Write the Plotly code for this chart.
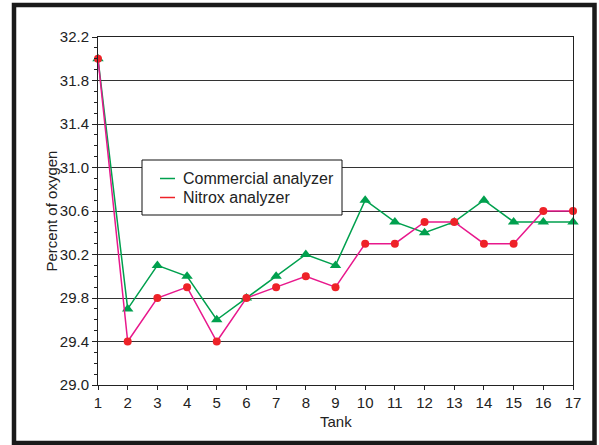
import plotly.graph_objects as go

tanks = list(range(1, 18))
commercial = [32.0, 29.7, 30.1, 30.0, 29.6, 29.8, 30.0, 30.2, 30.1, 30.7, 30.5, 30.4, 30.5, 30.7, 30.5, 30.5, 30.5]
nitrox = [32.0, 29.4, 29.8, 29.9, 29.4, 29.8, 29.9, 30.0, 29.9, 30.3, 30.3, 30.5, 30.5, 30.3, 30.3, 30.6, 30.6]
series_names = ["Commercial analyzer", "Nitrox analyzer"]
y_ticks = [29.0, 29.4, 29.8, 30.2, 30.6, 31.0, 31.4, 31.8, 32.2]

GREEN = "#00A04E"
MAGENTA = "#E8188C"
RED = "#EE2228"
FONT = "Liberation Sans, Arial, sans-serif"
TXT = "#222222"

W, H = 599, 445
L, R, T, B = 98, 573, 37, 385

def px(xp):
    return (xp - L) / (R - L)

def py(yp):
    return (B - yp) / (B - T)

fig = go.Figure()
fig.add_trace(go.Scatter(
    x=tanks, y=commercial, mode="lines+markers", name=series_names[0],
    line=dict(color=GREEN, width=1.5),
    marker=dict(symbol="triangle-up", size=10, color=GREEN),
    cliponaxis=False, showlegend=False))
fig.add_trace(go.Scatter(
    x=tanks, y=nitrox, mode="lines+markers", name=series_names[1],
    line=dict(color=MAGENTA, width=1.5),
    marker=dict(symbol="circle", size=8, color=RED),
    cliponaxis=False, showlegend=False))

shapes = []
# outer frame
shapes.append(dict(type="rect", xref="paper", yref="paper",
                   x0=px(14), x1=px(594.5), y0=py(443), y1=py(5),
                   line=dict(color="#1a1a1a", width=4.5)))
# legend box
shapes.append(dict(type="rect", xref="paper", yref="paper",
                   x0=px(142), x1=px(342), y0=py(215), y1=py(160),
                   line=dict(color="#111111", width=1), fillcolor="white", layer="above"))
annotations = []
for name, color, yy in [(series_names[0], GREEN, 178.5), (series_names[1], RED, 197.5)]:
    shapes.append(dict(type="line", xref="paper", yref="paper",
                       x0=px(160), x1=px(175), y0=py(yy), y1=py(yy),
                       line=dict(color=color, width=1.5), layer="above"))
    annotations.append(dict(xref="paper", yref="paper", x=px(181), y=py(yy),
                            xanchor="left", yanchor="middle", showarrow=False,
                            text=name, font=dict(size=16, color=TXT, family=FONT)))
annotations.append(dict(xref="paper", yref="paper", x=px(40), y=py(211),
                        textangle=-90, showarrow=False, text="Percent of oxygen",
                        font=dict(size=15, color=TXT, family=FONT)))
annotations.append(dict(xref="paper", yref="paper", x=px(335.5), y=py(422),
                        yanchor="middle", showarrow=False, text="Tank",
                        font=dict(size=15, color=TXT, family=FONT)))

fig.update_layout(
    width=W, height=H,
    margin=dict(l=L, r=W - R, t=T, b=H - B, autoexpand=False),
    paper_bgcolor="white", plot_bgcolor="white",
    font=dict(family=FONT, size=15, color=TXT),
    shapes=shapes, annotations=annotations,
    xaxis=dict(range=[1, 17], tickmode="array", tickvals=tanks,
               ticks="outside", ticklen=4, tickcolor=TXT,
               showgrid=False, zeroline=False,
               showline=True, linecolor=TXT, linewidth=1, mirror=True,
               tickfont=dict(size=15), automargin=False),
    yaxis=dict(range=[29.0, 32.2], tickmode="array", tickvals=y_ticks,
               ticktext=[f"{v:.1f}" for v in y_ticks],
               ticks="outside", ticklen=5, tickcolor=TXT,
               minor=dict(dtick=0.1, ticks="outside", ticklen=3, tickcolor=TXT, showgrid=False),
               showgrid=True, gridcolor="#333333", gridwidth=1, zeroline=False,
               showline=True, linecolor=TXT, linewidth=1, mirror=True,
               tickfont=dict(size=15), automargin=False),
)

fig.write_html("out.html", config={"displayModeBar": False},
               post_script="document.body.style.margin='0';document.body.style.overflow='hidden';")
